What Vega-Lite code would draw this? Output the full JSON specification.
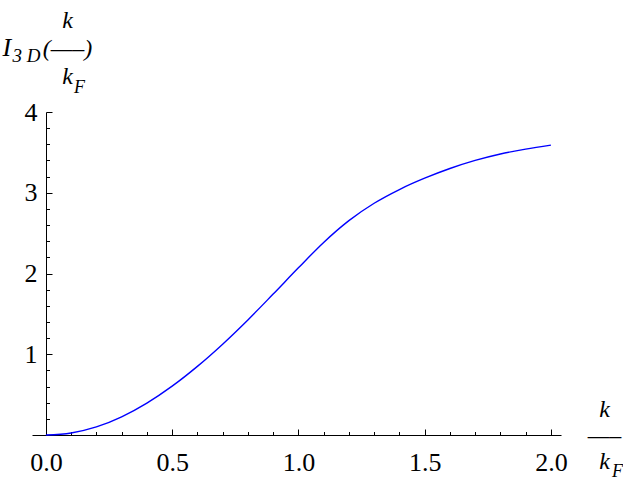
{
  "$schema": "https://vega.github.io/schema/vega-lite/v6.json",
  "width": 529,
  "height": 323,
  "autosize": {"type": "none"},
  "padding": {"left": 32, "top": 112, "right": 62, "bottom": 47},
  "background": "white",
  "title": {"text": "F", "anchor": "start", "frame": "group", "fontSize": 18, "font": "Liberation Serif", "fontStyle": "italic", "fontWeight": "normal", "color": "#000000", "dx": 42, "dy": 103, "offset": 0, "baseline": "alphabetic"},
  "config": {
    "view": {"stroke": null},
    "font": "Liberation Serif",
    "axis": {"grid": false, "domainColor": "#000000", "tickColor": "#000000", "labelColor": "#000000", "titleColor": "#000000", "labelFont": "Liberation Serif", "titleFont": "Liberation Serif", "domainWidth": 1, "tickWidth": 1}
  },
  "data": {"values": [
    {"k": 0.0, "I": 0.0},
    {"k": 0.1, "I": 0.025},
    {"k": 0.2, "I": 0.1},
    {"k": 0.3, "I": 0.225},
    {"k": 0.4, "I": 0.395},
    {"k": 0.5, "I": 0.605},
    {"k": 0.6, "I": 0.85},
    {"k": 0.7, "I": 1.125},
    {"k": 0.8, "I": 1.425},
    {"k": 0.9, "I": 1.745},
    {"k": 1.0, "I": 2.07},
    {"k": 1.1, "I": 2.385},
    {"k": 1.2, "I": 2.655},
    {"k": 1.3, "I": 2.87},
    {"k": 1.4, "I": 3.04},
    {"k": 1.5, "I": 3.18},
    {"k": 1.6, "I": 3.3},
    {"k": 1.7, "I": 3.4},
    {"k": 1.8, "I": 3.48},
    {"k": 1.9, "I": 3.54},
    {"k": 2.0, "I": 3.59}
  ]},
  "layer": [
    {
      "mark": {"type": "line", "interpolate": "monotone", "strokeWidth": 1.4},
      "encoding": {
        "x": {
          "field": "k", "type": "quantitative",
          "scale": {"domain": [-0.055, 2.04], "nice": false, "zero": false},
          "axis": {
            "values": [0, 0.1, 0.2, 0.3, 0.4, 0.5, 0.6, 0.7, 0.8, 0.9, 1.0, 1.1, 1.2, 1.3, 1.4, 1.5, 1.6, 1.7, 1.8, 1.9, 2.0],
            "labelExpr": "abs(datum.value * 2 - round(datum.value * 2)) < 0.001 ? format(datum.value, '.1f') : ''",
            "tickSize": {"condition": {"test": "abs(datum.value * 2 - round(datum.value * 2)) < 0.001", "value": -6}, "value": -3.5},
            "labelPadding": 20,
            "labelFont": "Liberation Serif",
            "labelFontSize": 26,
            "labelAngle": 0,
            "labelFlush": false,
            "labelOverlap": false,
            "labelBound": false,
            "title": ["k", "—–", "k\u00a0"],
            "titleFont": "Liberation Serif",
            "titleX": 572,
            "titleY": -19,
            "titleAlign": "center",
            "titleBaseline": "alphabetic",
            "titleAngle": 0,
            "titleFontSize": 24,
            "titleFontStyle": "italic",
            "titleFontWeight": "normal",
            "titleLineHeight": 26
          }
        },
        "y": {
          "field": "I", "type": "quantitative",
          "scale": {"domain": [0, 4], "nice": false, "zero": false},
          "axis": {
            "values": [0, 0.2, 0.4, 0.6, 0.8, 1, 1.2, 1.4, 1.6, 1.8, 2, 2.2, 2.4, 2.6, 2.8, 3, 3.2, 3.4, 3.6, 3.8, 4],
            "offset": -14,
            "labelExpr": "datum.value > 0.5 && abs(datum.value - round(datum.value)) < 0.001 ? format(datum.value, 'd') : ''",
            "tickSize": {"condition": {"test": "abs(datum.value - round(datum.value)) < 0.001", "value": -6}, "value": -3.5},
            "labelPadding": 15,
            "labelFont": "Liberation Serif",
            "labelFontSize": 26,
            "labelBaseline": "middle",
            "labelFlush": false,
            "labelOverlap": false,
            "labelBound": false,
            "title": "I",
            "titleFont": "Liberation Serif",
            "titleX": -44,
            "titleY": -57,
            "titleAngle": 0,
            "titleAlign": "left",
            "titleBaseline": "alphabetic",
            "titleFontSize": 26,
            "titleFontStyle": "italic",
            "titleFontWeight": "normal"
          }
        },
        "color": {
          "datum": "F", "type": "nominal",
          "scale": {"range": ["#0000ff"]},
          "legend": {"orient": "none", "legendX": 562, "legendY": 356, "title": null, "symbolOpacity": 0, "symbolSize": 0, "symbolStrokeWidth": 0, "labelFontSize": 18, "labelFont": "Liberation Serif", "labelFontStyle": "italic", "labelColor": "#000000", "labelOffset": 0, "padding": 0, "labelBaseline": "alphabetic"}
        }
      }
    },
    {
      "mark": {"type": "line", "opacity": 0},
      "encoding": {
        "x": {
          "field": "k", "type": "quantitative",
          "scale": {"domain": [-0.055, 2.04], "nice": false, "zero": false},
          "axis": {"orient": "top", "domain": false, "ticks": false, "labels": false, "title": "3 D", "titleFont": "Liberation Serif", "titleX": -20, "titleY": -51, "titleAngle": 0, "titleAlign": "left", "titleBaseline": "alphabetic", "titleFontSize": 19, "titleFontStyle": "italic", "titleFontWeight": "normal"}
        },
        "y": {
          "field": "I", "type": "quantitative",
          "scale": {"domain": [0, 4], "nice": false, "zero": false},
          "axis": {"orient": "right", "domain": false, "ticks": false, "labels": false, "title": ["k", "(—–)", "k"], "titleFont": "Liberation Serif", "titleX": -494, "titleY": -85, "titleAngle": 0, "titleAlign": "center", "titleBaseline": "alphabetic", "titleFontSize": 24, "titleFontStyle": "italic", "titleFontWeight": "normal", "titleLineHeight": 28}
        }
      }
    }
  ],
  "resolve": {"scale": {"x": "independent", "y": "independent"}, "axis": {"x": "independent", "y": "independent"}}
}
